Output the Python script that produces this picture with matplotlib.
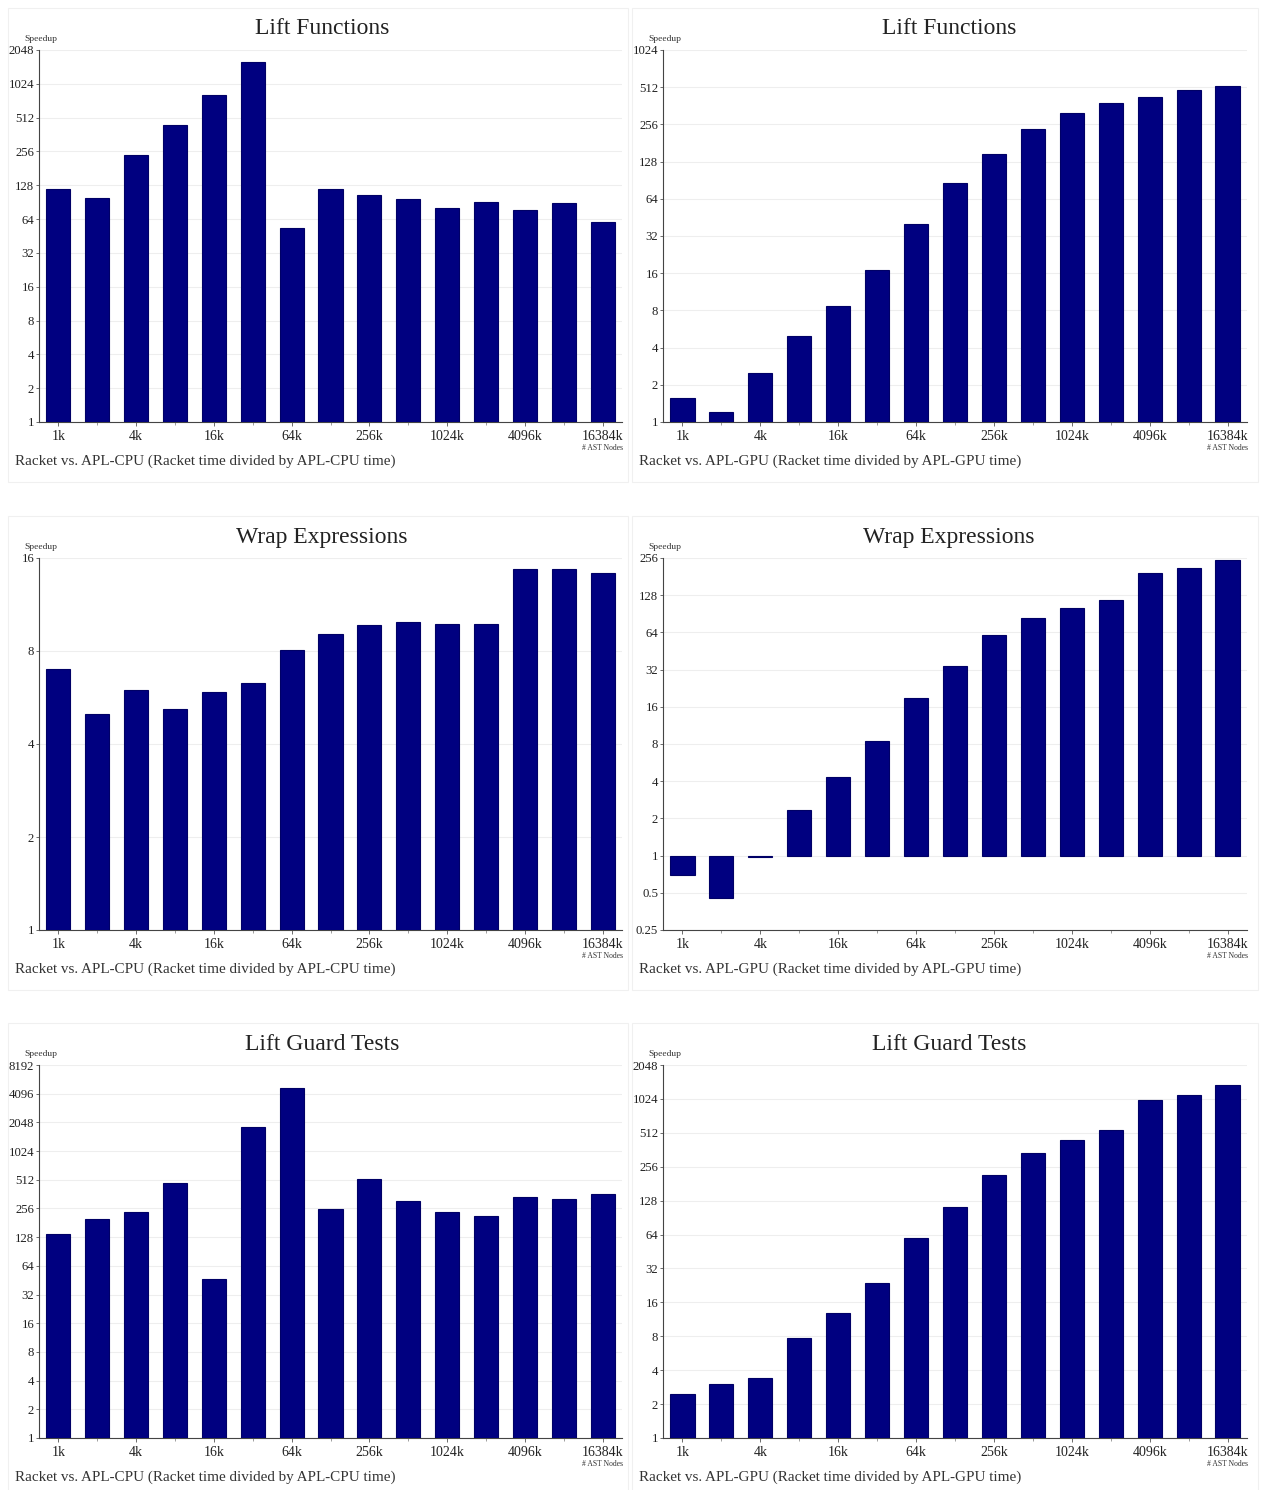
import matplotlib
matplotlib.use("Agg")
import matplotlib.pyplot as plt
from matplotlib.patches import Rectangle
import numpy as np

plt.rcParams['font.family'] = ['Liberation Serif', 'DejaVu Serif']

sizes = ["1k", "2k", "4k", "8k", "16k", "32k", "64k", "128k", "256k", "512k",
         "1024k", "2048k", "4096k", "8192k", "16384k"]

lift_functions_cpu = [119, 99, 239, 442, 816, 1608, 53, 119, 105, 97, 81, 91, 77, 89, 60]
lift_functions_gpu = [1.56, 1.2, 2.49, 4.96, 8.7, 17, 40, 86, 147, 235, 317, 382, 427, 486, 524]
wrap_expr_cpu = [7.0, 5.0, 5.98, 5.2, 5.9, 6.3, 8.06, 9.07, 9.7, 9.93, 9.78, 9.78, 14.7, 14.7, 14.3]
wrap_expr_gpu = [0.70, 0.45, 0.97, 2.36, 4.36, 8.4, 19, 34.5, 61, 83, 101, 118, 195, 213, 247]
lift_guard_cpu = [138, 198, 235, 472, 46.5, 1830, 4700, 252, 520, 306, 235, 213, 337, 321, 362]
lift_guard_gpu = [2.46, 3.0, 3.4, 7.7, 12.9, 23.8, 60, 112, 217, 340, 443, 544, 1005, 1110, 1364]

titles = ["Lift Functions", "Lift Functions", "Wrap Expressions", "Wrap Expressions",
          "Lift Guard Tests", "Lift Guard Tests"]
captions = ["Racket vs. APL-CPU (Racket time divided by APL-CPU time)",
            "Racket vs. APL-GPU (Racket time divided by APL-GPU time)"] * 3
series = [lift_functions_cpu, lift_functions_gpu, wrap_expr_cpu, wrap_expr_gpu,
          lift_guard_cpu, lift_guard_gpu]
ylims = [(1, 2048), (1, 1024), (1, 16), (0.25, 256), (1, 8192), (1, 2048)]

W, H = 1261, 1490
fig = plt.figure(figsize=(W / 100, H / 100), dpi=100)

row_top = [50, 558, 1065]
row_bot = [422, 930, 1438]
col_left = [39, 663]
col_right = [622, 1247]
panel_left = [8, 632]
panel_right = [628, 1258]

navy = '#000080'
for i in range(6):
    r, c = divmod(i, 2)
    x0, x1 = col_left[c], col_right[c]
    yt, yb = row_top[r], row_bot[r]
    # light panel border
    fig.patches.append(Rectangle((panel_left[c] / W, 1 - (yb + 60) / H),
                                 (panel_right[c] - panel_left[c]) / W,
                                 (yb + 60 - (yt - 42)) / H,
                                 transform=fig.transFigure, fill=False,
                                 edgecolor='#f0f0f0', linewidth=0.8, zorder=0))
    ax = fig.add_axes([x0 / W, 1 - yb / H, (x1 - x0) / W, (yb - yt) / H])
    vals = np.array(series[i], dtype=float)
    x = np.arange(len(sizes))
    ax.set_yscale('log', base=2)
    ax.bar(x, vals - 1.0, bottom=1.0, width=0.62, color=navy,
           edgecolor='#000066', linewidth=0.8, zorder=3)
    lo, hi = ylims[i]
    ax.set_ylim(lo, hi)
    ax.set_xlim(-0.5, len(sizes) - 0.5)
    e0, e1 = int(round(np.log2(lo))), int(round(np.log2(hi)))
    yt_vals = [2.0 ** k for k in range(e0, e1 + 1)]
    ax.set_yticks(yt_vals)
    ax.set_yticklabels(['%g' % v for v in yt_vals])
    ax.yaxis.set_minor_locator(matplotlib.ticker.NullLocator())
    ax.set_xticks(x[::2])
    ax.set_xticklabels(sizes[::2])
    ax.set_xticks(x, minor=True)
    ax.tick_params(axis='x', which='major', labelsize=10, length=3,
                   width=0.6, color='#555555', pad=3, labelcolor='#222222')
    ax.tick_params(axis='y', which='major', labelsize=9.2, length=2.5,
                   width=0.6, color='#555555', pad=1, labelcolor='#222222')
    ax.tick_params(axis='x', which='minor', length=2, width=0.5, color='#777777')
    ax.grid(axis='y', color='#eeeeee', linewidth=0.8, zorder=0)
    for s in ['top', 'right']:
        ax.spines[s].set_visible(False)
    for s in ['left', 'bottom']:
        ax.spines[s].set_color('#444444')
        ax.spines[s].set_linewidth(0.8)
    ax.set_axisbelow(True)

    tx = (panel_left[c] + panel_right[c]) / 2 + 4
    fig.text(tx / W, 1 - (yt - 21) / H, titles[i], ha='center', va='center',
             fontsize=17, color='#222222')
    fig.text((x0 + 2) / W, 1 - (yt - 11) / H, "Speedup", ha='center', va='center',
             fontsize=6.8, color='#333333')
    fig.text((x1 + 1) / W, 1 - (yb + 26) / H, "# AST Nodes", ha='right', va='center',
             fontsize=5.5, color='#333333')
    fig.text((panel_left[c] + 7) / W, 1 - (yb + 39) / H, captions[i], ha='left',
             va='center', fontsize=10.9, color='#333333')

fig.savefig("out.png", dpi=100, facecolor='white')
